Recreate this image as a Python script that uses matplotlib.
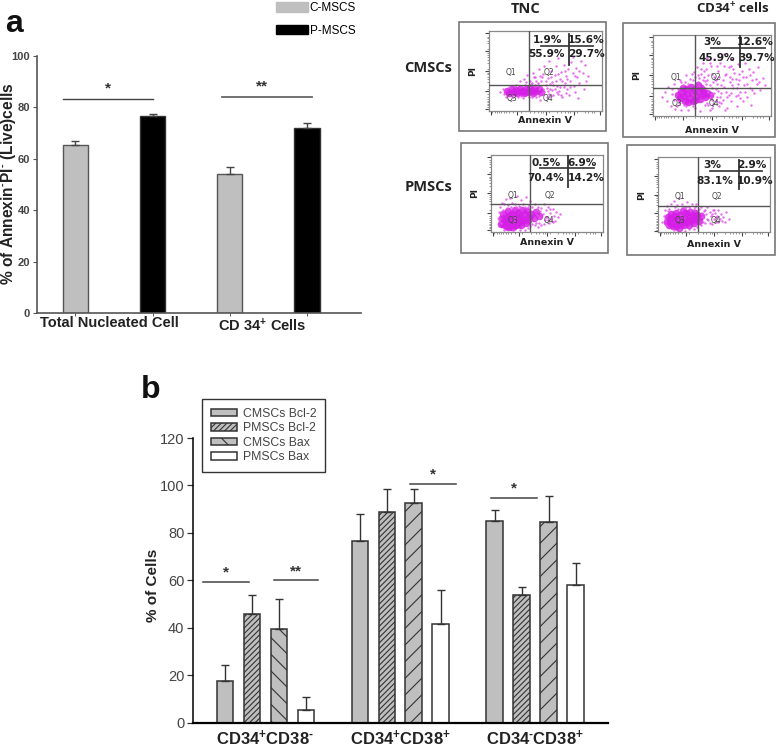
import matplotlib
matplotlib.use('Agg')
import matplotlib.pyplot as plt
from matplotlib.patches import Patch, Rectangle
import numpy as np

plt.rcParams['font.family'] = ['Liberation Sans', 'DejaVu Sans']
plt.rcParams['mathtext.fontset'] = 'custom'
plt.rcParams['mathtext.rm'] = 'Liberation Sans:bold'
plt.rcParams['mathtext.bf'] = 'Liberation Sans:bold'
plt.rcParams['mathtext.default'] = 'bf'
plt.rcParams['hatch.linewidth'] = 0.8

W, H = 778, 747

# chart a
a_groups = ['Total Nucleated Cell', 'CD 34$^{+}$ Cells']
a_series = ['C-MSCS', 'P-MSCS']
a_cmscs = [65.5, 54.0]
a_cmscs_err = [1.5, 2.8]
a_pmscs = [76.7, 71.8]
a_pmscs_err = [0.6, 2.1]

# chart b
b_groups = ['CD34$^{+}$CD38$^{\u2010}$', 'CD34$^{+}$CD38$^{+}$', 'CD34$^{\u2010}$CD38$^{+}$']
b_series = ['CMSCs Bcl-2', 'PMSCs Bcl-2', 'CMSCs Bax', 'PMSCs Bax']
b_cmscs_bcl2 = [17.5, 76.4, 85.0]
b_cmscs_bcl2_err = [6.8, 11.6, 4.8]
b_pmscs_bcl2 = [45.9, 88.8, 53.7]
b_pmscs_bcl2_err = [8.1, 9.7, 3.3]
b_cmscs_bax = [39.6, 92.4, 84.6]
b_cmscs_bax_err = [12.6, 6.1, 10.8]
b_pmscs_bax = [5.3, 41.7, 58.0]
b_pmscs_bax_err = [5.7, 14.2, 9.4]

# flow panels, percentages in each quadrant
p1_pct = ['1.9%', '15.6%', '55.9%', '29.7%']
p2_pct = ['3%', '12.6%', '45.9%', '39.7%']
p3_pct = ['0.5%', '6.9%', '70.4%', '14.2%']
p4_pct = ['3%', '2.9%', '83.1%', '10.9%']

# flow events (annexin, PI), sparse ones and the dense core
p1_sparse = [(10,24),(13,21),(12,27),(15,18),(18,30),(21,17),(24,33),(27,37),(30,16),(31,40),(34,45),(36,38),
             (38,17),(39,48),(41,42),(43,35),(44,52),(45,14),(46,37),(48,46),(49,56),(50,33),(51,17),(52,41),
             (53,62),(54,28),(55,50),(56,36),(57,20),(58,45),(59,56),(60,31),(61,66),(62,25),(63,40),(64,49),
             (65,17),(66,58),(67,35),(68,44),(69,28),(70,52),(71,20),(72,38),(73,61),(74,47),(75,31),(76,24),
             (77,54),(78,42),(79,16),(80,35),(81,63),(83,48),(84,27),(85,58),(86,38),(88,44),(74,68),(66,30),
             (44,27),(47,22),(52,25),(55,19),(58,27),(61,21),(40,31),(37,34),(33,36),(42,18),(28,19),(20,20),
             (49,24),(51,29),(53,21),(46,30),(44,19),(41,33),(38,35),(36,31),(35,17),(32,33),(29,31),(26,18),
             (23,31),(50,38),(47,42),(45,44),(42,38),(40,43),(55,42),(57,33),(59,38),(61,46),(63,30),(65,37),
             (67,50),(69,40),(54,34),(56,26),(60,24),(64,20),(68,22),(72,30),(76,44),(80,50),(48,28),(43,32)]
p1_core = [(16,25),(18,23),(20,27),(22,24),(24,26),(25,22),(27,28),(28,24),(30,25),(31,22),(33,27),
           (34,24),(36,29),(37,25),(39,23),(40,27),(42,25),(44,28),(46,24)]

p2_sparse = [(8,24),(10,30),(12,18),(13,36),(15,12),(16,27),(18,40),(19,9),(21,33),(23,45),(24,8),(26,14),
             (28,50),(30,7),(33,52),(36,10),(37,60),(39,47),(40,6),(42,66),(43,55),(44,13),(45,40),(46,72),
             (47,50),(48,8),(49,62),(50,35),(51,15),(52,70),(53,44),(54,24),(55,56),(56,12),(57,66),(58,38),
             (59,20),(60,76),(61,50),(62,30),(63,10),(64,60),(65,42),(66,18),(67,70),(68,34),(69,53),(70,25),
             (71,12),(72,64),(73,44),(74,30),(75,56),(76,18),(77,38),(78,66),(79,48),(80,24),(81,58),(82,34),
             (83,14),(84,44),(85,54),(86,28),(88,40),(89,60),(91,32),(93,47),(95,38),(47,30),(53,33),(58,28),
             (63,24),(48,22),(44,34),(56,17),(66,29),(42,20),(38,42),(34,44),(30,40),(25,38),(22,16),(28,12),
             (50,20),(52,28),(54,39),(55,31),(57,23),(59,44),(60,36),(62,52),(64,26),(65,48),(67,38),(68,58),
             (70,46),(71,34),(73,52),(74,22),(46,45),(48,38),(50,52),(52,48),(45,58),(43,48),(41,52),(39,37),
             (36,48),(34,12),(31,46),(27,42),(18,20),(16,33),(20,12),(24,42),(46,16),(50,10),(58,16),(61,8),
             (67,46),(72,26),(76,48),(80,40),(84,32),(49,27),(51,42),(53,18),(56,48),(47,14),(44,43),(42,44),
             (38,50),(35,54),(41,58),(48,66),(54,62),(60,62),(66,62),(72,40),(78,30),(82,50),(87,46),(90,42)]
p2_core = [(21,26),(23,22),(24,30),(26,25),(27,19),(28,33),(29,27),(31,22),(32,36),(33,28),(34,18),(35,32),
           (37,25),(38,38),(39,30),(40,21),(41,34),(43,27),(44,23),(46,29),(48,26),(25,34),(30,17),(36,20),(42,31)]

p3_sparse = [(6,18),(7,26),(8,32),(9,12),(10,38),(11,29),(13,43),(15,35),(17,44),(19,38),(21,36),(23,47),
             (25,34),(27,42),(29,37),(31,45),(33,32),(35,40),(36,14),(38,28),(39,36),(40,12),(41,22),(42,32),
             (43,18),(44,27),(45,9),(46,23),(47,36),(48,15),(49,28),(50,20),(51,33),(52,12),(53,25),(54,17),
             (55,30),(56,21),(57,14),(58,26),(60,19),(62,24),(35,8),(30,3),(20,2),(12,3),
             (37,11),(39,17),(41,30),(43,12),(45,31),(47,11),(49,20),(51,16),(53,30),(55,13),(37,33),(34,35),
             (30,33),(26,32),(22,33),(18,32),(14,31),(12,36),(9,24),(7,15),(39,9),(42,7),(33,5),(26,3)]
p3_core = [(9,10),(10,18),(11,24),(12,14),(13,8),(14,20),(15,27),(16,12),(17,17),(18,7),(19,23),(20,13),(21,29),
           (22,9),(23,19),(24,25),(25,14),(26,21),(27,9),(28,28),(29,17),(30,23),(31,12),(32,27),(34,20),(36,24),
           (38,18),(40,26),(43,21),(11,11),(15,6),(20,6),(24,11),(28,14),(33,15),(17,22),(13,16)]

p4_sparse = [(4,14),(5,22),(6,29),(7,9),(8,35),(10,31),(12,38),(14,41),(15,33),(17,36),(19,46),(21,38),
             (23,34),(26,40),(28,33),(30,37),(32,31),(34,38),(36,28),(38,33),(40,20),(41,28),(42,12),(43,24),
             (44,33),(45,16),(46,27),(47,21),(48,11),(49,29),(50,18),(51,25),(52,14),(53,22),(54,29),(55,17),
             (56,24),(58,20),(60,13),(61,27),(63,18),(14,3),(24,2),(32,4),
             (39,26),(40,14),(42,30),(44,18),(46,12),(48,24),(50,29),(52,20),(54,14),(57,15),(37,31),(33,33),
             (29,31),(25,33),(21,32),(18,31),(9,28),(6,17),(38,9),(35,7),(28,4),(20,4)]
p4_core = [(8,14),(9,20),(10,10),(11,17),(12,24),(13,8),(14,14),(15,20),(16,26),(17,11),(18,17),(19,6),(20,23),
           (21,14),(22,28),(23,9),(24,19),(25,25),(26,13),(27,21),(28,9),(29,27),(30,16),(31,22),(32,12),(33,25),
           (34,18),(35,23),(37,15),(38,21),(12,12),(16,8),(20,10),(24,14),(28,16),(14,22),(32,18)]

GRAY = '#bfbfbf'
DARK = '#333333'


def px_axes(left, top, right, bottom):
    return fig.add_axes([left / W, 1 - bottom / H, (right - left) / W, (bottom - top) / H])


def px_text(x, y, s, **kw):
    kw.setdefault('ha', 'center')
    kw.setdefault('va', 'center')
    fig.text(x / W, 1 - y / H, s, **kw)


fig = plt.figure(figsize=(W / 100, H / 100), dpi=100)

# ---- chart a ----
ax = px_axes(37, 56, 361, 313)
xa = np.arange(len(a_groups))
off, wid = 0.25, 0.165
ax.bar(xa - off, a_cmscs, wid, color=GRAY, edgecolor='#555555', lw=1.0,
       yerr=[np.zeros(2), a_cmscs_err], error_kw=dict(ecolor='#444444', elinewidth=1, capsize=3, capthick=1))
ax.bar(xa + off, a_pmscs, wid, color='black', edgecolor='#333333', lw=1.0,
       yerr=[np.zeros(2), a_pmscs_err], error_kw=dict(ecolor='#444444', elinewidth=1, capsize=3, capthick=1))
ax.set_xlim(-0.498, 1.6)
ax.set_ylim(0, 100)
ax.set_yticks(np.arange(0, 101, 20))
ax.set_xticks(np.concatenate([xa - off, xa + off]))
ax.set_xticklabels([])
ax.tick_params(axis='x', length=2, width=0.7, color='#555555')
ax.tick_params(axis='y', length=3, width=0.8, color='#555555', labelsize=8, labelcolor='#444444', pad=2)
for lab in ax.get_yticklabels():
    lab.set_weight('bold')
ax.spines[['top', 'right']].set_visible(False)
ax.spines[['left', 'bottom']].set_color('#555555')
ax.spines[['left', 'bottom']].set_linewidth(1.2)
ax.plot([-0.33, 0.25], [83.3, 83.3], color='#444444', lw=1)
ax.plot([0.70, 1.28], [84.2, 84.2], color='#666666', lw=1.3)
ax.text(-0.04, 84.5, '*', ha='center', va='bottom', fontsize=11, fontweight='bold', color='#333333')
ax.text(0.96, 85.5, '**', ha='center', va='bottom', fontsize=11, fontweight='bold', color='#333333')
px_text(9, 184, '% of Annexin$^{\u2010}$PI$^{\u2010}$ (Live)cells', rotation=90, fontsize=11.2, fontweight='bold', color='#222222')
px_text(109, 323, a_groups[0], fontsize=10.5, fontweight='bold', color='#222222')
px_text(262.5, 326, a_groups[1], fontsize=10.5, fontweight='bold', color='#222222')

a_handles = [Patch(facecolor=GRAY, edgecolor=GRAY), Patch(facecolor='black', edgecolor='black')]
ax.legend(a_handles, a_series, loc='upper left', bbox_to_anchor=(276 / W, 1 - 2 / H), bbox_transform=fig.transFigure,
          frameon=False, borderpad=0, borderaxespad=0, fontsize=8.5, handlelength=2.75, handleheight=0.85,
          handletextpad=0.1, labelspacing=0.9)

px_text(13.5, 24, 'a', fontsize=23, fontweight='bold', color='#111111')
px_text(151, 390, 'b', fontsize=23, fontweight='bold', color='#111111')

# ---- flow panels ----
panels = [
    dict(frame=(459, 22, 606, 131), inner=(489, 31, 602, 111), gate=(35.6, 32.5), sparse=p1_sparse, core=p1_core,
         pct=p1_pct, hline=(46, 92, 81.7), vline=(71, 58, 96), pos=[(52, 89), (86, 89), (51, 71), (86, 71)], lab_y=120.5),
    dict(frame=(623, 23, 775, 137), inner=(653, 35, 771, 116), gate=(35.7, 35), sparse=p2_sparse, core=p2_core,
         pct=p2_pct, hline=(49, 95, 84), vline=(74, 61, 100), pos=[(50, 91), (87, 91), (54, 72), (88, 72)], lab_y=130.5),
    dict(frame=(461, 143, 608, 253), inner=(491, 155, 603, 232), gate=(35, 36), sparse=p3_sparse, core=p3_core,
         pct=p3_pct, hline=(44, 92, 83), vline=(69, 59, 99), pos=[(49, 90), (81, 90), (49, 70), (85, 70)], lab_y=242.5),
    dict(frame=(627, 145, 775, 255), inner=(658, 157, 770, 232), gate=(36, 35), sparse=p4_sparse, core=p4_core,
         pct=p4_pct, hline=(46, 93, 81), vline=(72, 57, 96), pos=[(48, 89), (84, 89), (51, 68), (87, 68)], lab_y=244.5),
]
minor_pos = [3, 5, 7, 9, 11, 13, 15, 18, 21, 28, 36, 40, 43, 46, 48, 53, 60, 64, 67, 70, 72, 78, 85, 88, 91, 93]
major_pos = [2, 25, 50, 75, 98]

for p in panels:
    l, t, r, b = p['frame']
    fig.add_artist(Rectangle((l / W, 1 - b / H), (r - l) / W, (b - t) / H, transform=fig.transFigure,
                             facecolor='none', edgecolor='#777777', lw=1.2))
    fa = px_axes(*p['inner'])
    sp = np.array(p['sparse'])
    co = np.array(p['core'])
    fa.scatter(co[:, 0], co[:, 1], s=30, color='#d61fe6', alpha=0.85, lw=0, zorder=2)
    fa.scatter(sp[:, 0], sp[:, 1], s=3, color='#e455ee', alpha=0.85, lw=0, zorder=2)
    fa.axvline(p['gate'][0], color='#555555', lw=1, zorder=3)
    fa.axhline(p['gate'][1], color='#555555', lw=1, zorder=3)
    fa.plot(p['hline'][:2], [p['hline'][2]] * 2, color='#444444', lw=1.3, zorder=4)
    fa.plot([p['vline'][0]] * 2, p['vline'][1:], color='#333333', lw=1.3, zorder=4)
    for s, (x, y) in zip(p['pct'], p['pos']):
        fa.text(x, y, s, ha='center', va='center', fontsize=7.6, fontweight='bold', color='#222222',
                family='DejaVu Sans', zorder=5)
    for s, x, y in [('Q1', 19.5, 47.5), ('Q2', 53, 47.5), ('Q3', 20, 15), ('Q4', 52, 15)]:
        fa.text(x, y, s, ha='center', va='center', fontsize=5.5, color='#444444', family='DejaVu Sans', zorder=5)
    fa.set_xlim(0, 100)
    fa.set_ylim(0, 100)
    fa.set_xticks(major_pos)
    fa.set_yticks(major_pos)
    fa.set_xticks(minor_pos, minor=True)
    fa.set_yticks(minor_pos, minor=True)
    fa.set_xticklabels([])
    fa.set_yticklabels([])
    fa.tick_params(which='major', length=3, width=0.8, color='#444444')
    fa.tick_params(which='minor', length=1.5, width=0.5, color='#666666')
    fa.spines[:].set_color('#888888')
    fa.spines[:].set_linewidth(0.9)
    px_text((p['inner'][0] + p['inner'][2]) / 2, p['lab_y'], 'Annexin V', fontsize=6.8, fontweight='bold',
            family='DejaVu Sans', color='#222222')
    fa.set_ylabel('PI', fontsize=6.5, fontweight='bold', family='DejaVu Sans', color='#222222', labelpad=2)

px_text(526, 9, 'TNC', fontsize=10.5, fontweight='bold', color='#222222', family='Open Sans')
px_text(733, 9, 'CD34$^{+}$ cells', fontsize=9.5, fontweight='bold', color='#222222', family='Open Sans')
px_text(452, 68, 'CMSCs', ha='right', fontsize=10.5, fontweight='bold', color='#222222', family='Open Sans')
px_text(452, 187, 'PMSCs', ha='right', fontsize=10.5, fontweight='bold', color='#222222', family='Open Sans')

# ---- chart b ----
bx = px_axes(192.7, 438, 608, 722.7)
xb = np.arange(len(b_groups))
step, wid_b = 0.2, 0.124
ekw = dict(ecolor='#333333', elinewidth=1, capsize=3.2, capthick=1)
edge = '#333333'
bx.bar(xb - 1.5 * step, b_cmscs_bcl2, wid_b, color=GRAY, edgecolor=edge, lw=1.1, label=b_series[0],
       yerr=[np.zeros(3), b_cmscs_bcl2_err], error_kw=ekw)
bx.bar(xb - 0.5 * step, b_pmscs_bcl2, wid_b, color=GRAY, edgecolor=edge, lw=1.1, hatch='//////', label=b_series[1],
       yerr=[np.zeros(3), b_pmscs_bcl2_err], error_kw=ekw)
bax = bx.bar(xb + 0.5 * step, b_cmscs_bax, wid_b, color=GRAY, edgecolor=edge, lw=1.1, hatch='//', label=b_series[2],
             yerr=[np.zeros(3), b_cmscs_bax_err], error_kw=ekw)
bax[0].set_hatch('\\\\')
bx.bar(xb + 1.5 * step, b_pmscs_bax, wid_b, color='white', edgecolor=edge, lw=1.1, label=b_series[3],
       yerr=[np.zeros(3), b_pmscs_bax_err], error_kw=ekw)
bx.set_xlim(-0.54, 2.54)
bx.set_ylim(0, 120)
bx.set_yticks(np.arange(0, 121, 20))
bx.set_xticks(xb)
bx.set_xticklabels(b_groups, fontsize=12, fontweight='bold', color='#222222')
bx.tick_params(axis='x', length=0, pad=4)
bx.tick_params(axis='y', length=4, width=0.9, labelsize=10.5, labelcolor='#444444', color='#333333', pad=2)
bx.spines[['top', 'right']].set_visible(False)
bx.spines['left'].set_linewidth(1.1)
bx.spines['bottom'].set_linewidth(1.6)
px_text(153, 585, '% of Cells', rotation=90, fontsize=11, fontweight='bold', color='#222222')

for x0, x1, y, star in [(-0.46, -0.12, 59.4, '*'), (0.06, 0.39, 60, '**'), (1.07, 1.41, 100.8, '*'), (1.67, 2.01, 94.9, '*')]:
    bx.plot([x0, x1], [y, y], color='#444444', lw=1.1)
    bx.text((x0 + x1) / 2, y + 1, star, ha='center', va='bottom', fontsize=11, fontweight='bold', color='#333333')

h, lb = bx.get_legend_handles_labels()
leg = bx.legend(h, lb, loc='upper left', bbox_to_anchor=(201.7 / W, 1 - 398.7 / H), bbox_transform=fig.transFigure,
                fancybox=False, framealpha=1, edgecolor='#333333', fontsize=8.8, borderaxespad=0, borderpad=0.75,
                handlelength=2.1, handleheight=0.6, handletextpad=0.5, labelspacing=0.2,
                labelcolor='#444444')
leg.get_frame().set_linewidth(1)

fig.savefig('out.png', dpi=100)
